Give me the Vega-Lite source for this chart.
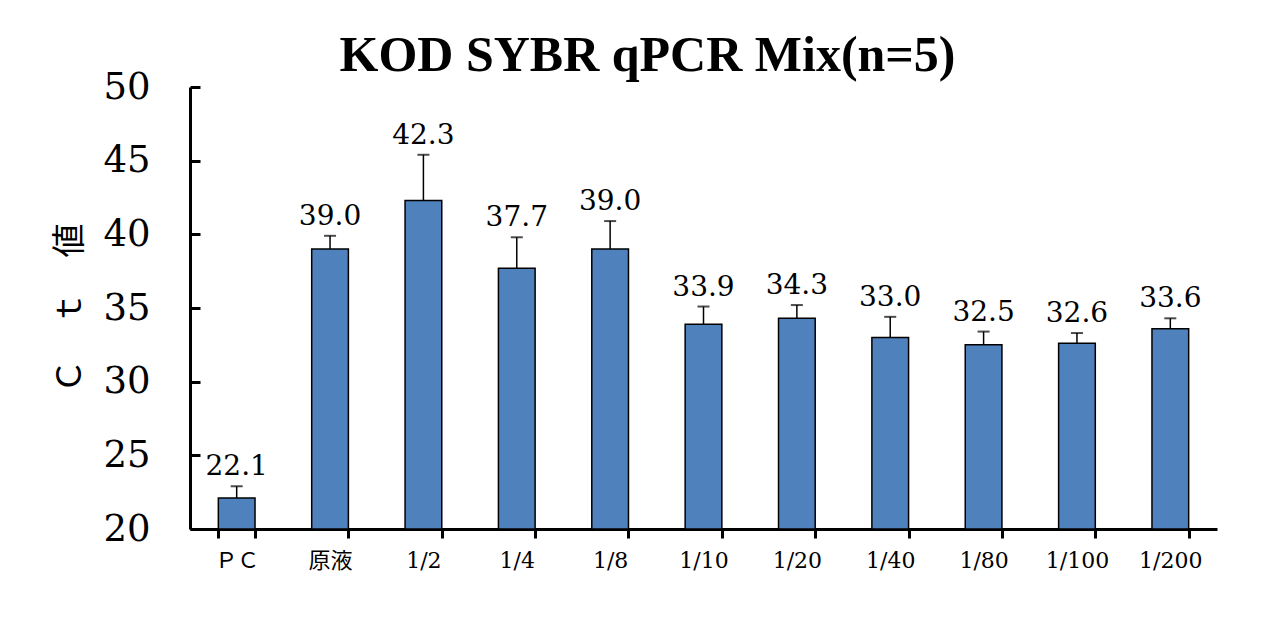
{
  "$schema": "https://vega.github.io/schema/vega-lite/v6.json",
  "width": 1027,
  "height": 442,
  "autosize": "none",
  "padding": {"left": 190, "top": 87, "right": 70, "bottom": 92},
  "background": "white",
  "title": {
    "text": "KOD SYBR qPCR Mix(n=5)",
    "font": "Liberation Serif",
    "fontSize": 50,
    "fontWeight": "bold",
    "color": "black",
    "anchor": "middle",
    "dx": -56,
    "dy": 27,
    "offset": 14
  },
  "data": {
    "values": [
      {"cat": "ＰＣ", "ct": 22.1, "hi": 22.9},
      {"cat": "原液", "ct": 39.0, "hi": 39.9},
      {"cat": "1/2", "ct": 42.3, "hi": 45.4},
      {"cat": "1/4", "ct": 37.7, "hi": 39.8},
      {"cat": "1/8", "ct": 39.0, "hi": 40.9},
      {"cat": "1/10", "ct": 33.9, "hi": 35.1},
      {"cat": "1/20", "ct": 34.3, "hi": 35.2},
      {"cat": "1/40", "ct": 33.0, "hi": 34.4},
      {"cat": "1/80", "ct": 32.5, "hi": 33.4},
      {"cat": "1/100", "ct": 32.6, "hi": 33.3},
      {"cat": "1/200", "ct": 33.6, "hi": 34.3}
    ]
  },
  "encoding": {
    "x": {
      "field": "cat",
      "type": "nominal",
      "sort": null,
      "scale": {"paddingInner": 0.607, "paddingOuter": 0.3035},
      "axis": {
        "title": null,
        "labelAngle": 0,
        "labelFont": "DejaVu Serif, Noto Sans CJK JP",
        "labelFontSize": 22,
        "labelColor": "black",
        "labelPadding": 12,
        "tickBand": "extent",
        "tickSize": 9,
        "tickWidth": 3,
        "tickColor": "black",
        "domainWidth": 3,
        "domainColor": "black"
      }
    }
  },
  "layer": [
    {
      "mark": {"type": "bar", "fill": "#4F81BD", "stroke": "black", "strokeWidth": 1.5},
      "encoding": {
        "y": {
          "field": "ct",
          "type": "quantitative",
          "scale": {"domain": [20, 50], "zero": false, "nice": false},
          "axis": {
            "title": "Ｃ　ｔ　値",
            "titleFont": "Noto Sans CJK JP",
            "titleFontSize": 34,
            "titleFontWeight": "normal",
            "titleColor": "black",
            "titlePadding": 15,
            "values": [20, 25, 30, 35, 40, 45, 50],
            "labelFont": "DejaVu Serif",
            "labelFontSize": 37,
            "labelColor": "black",
            "labelPadding": 50,
            "tickSize": -10,
            "tickWidth": 3,
            "tickColor": "black",
            "domainWidth": 3,
            "domainColor": "black",
            "grid": false
          }
        },
        "y2": {"datum": 20}
      }
    },
    {
      "mark": {"type": "rule", "color": "black", "strokeWidth": 1.5},
      "encoding": {
        "y": {"field": "ct", "type": "quantitative"},
        "y2": {"field": "hi"}
      }
    },
    {
      "mark": {"type": "tick", "color": "black", "thickness": 2, "size": 12},
      "encoding": {
        "y": {"field": "hi", "type": "quantitative"}
      }
    },
    {
      "mark": {"type": "text", "font": "DejaVu Serif", "fontSize": 28, "color": "black", "baseline": "bottom", "dy": -5},
      "encoding": {
        "y": {"field": "hi", "type": "quantitative"},
        "text": {"field": "ct", "type": "quantitative", "format": ".1f"}
      }
    }
  ],
  "config": {
    "view": {"stroke": null}
  }
}
